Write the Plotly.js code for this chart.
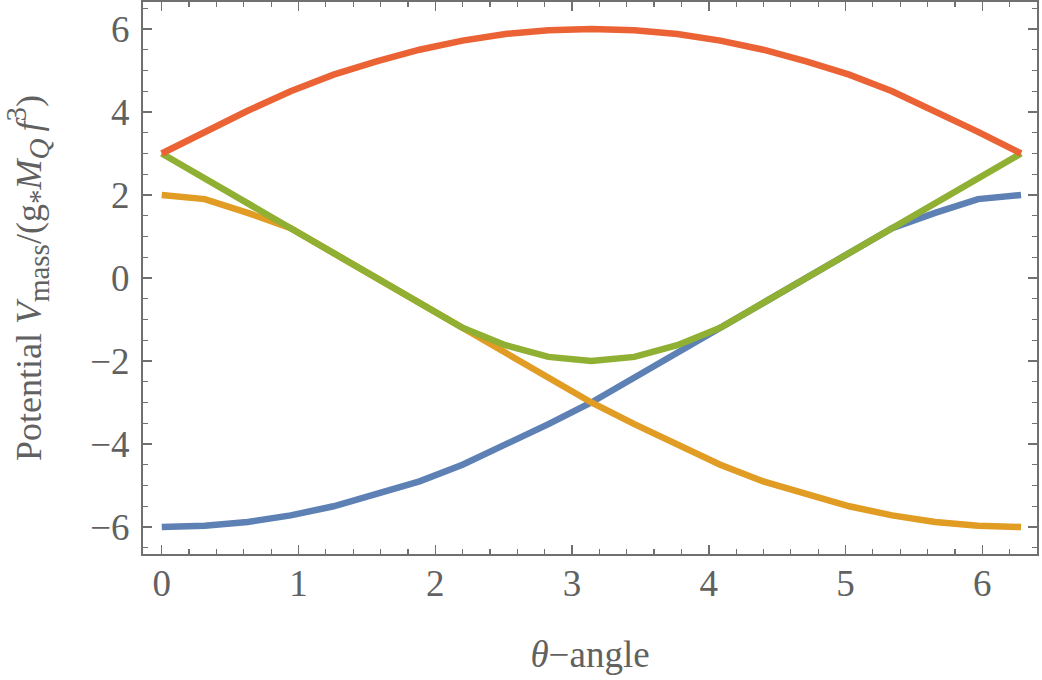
<!DOCTYPE html>
<html>
<head>
<meta charset="utf-8">
<script src="https://cdn.plot.ly/plotly-3.0.1.min.js"></script>
<style>html,body{margin:0;padding:0;background:#fff;}#chart{width:1042px;height:680px;}</style>
</head>
<body>
<div id="chart"></div>
<script>
// sample angles: k * pi/10, k = 0..20
const thetaSteps = [0,1,2,3,4,5,6,7,8,9,10,11,12,13,14,15,16,17,18,19,20];
const theta = thetaSteps.map(k => k * Math.PI / 10);

const seriesBlue   = [-6.0, -5.97, -5.88, -5.72, -5.5, -5.22, -4.9, -4.5, -4.03, -3.52, -3.0,
                      -2.4, -1.8, -1.2, -0.6, 0.0, 0.6, 1.2, 1.57, 1.9, 2.0];
const seriesOrange = [2.0, 1.9, 1.57, 1.2, 0.6, 0.0, -0.6, -1.2, -1.8, -2.4, -3.0,
                      -3.52, -4.03, -4.5, -4.9, -5.22, -5.5, -5.72, -5.88, -5.97, -6.0];
const seriesGreen  = [3.0, 2.4, 1.8, 1.2, 0.6, 0.0, -0.6, -1.2, -1.62, -1.9, -2.0,
                      -1.9, -1.62, -1.2, -0.6, 0.0, 0.6, 1.2, 1.8, 2.4, 3.0];
const seriesRed    = [3.0, 3.52, 4.03, 4.5, 4.9, 5.22, 5.5, 5.72, 5.88, 5.97, 6.0,
                      5.97, 5.88, 5.72, 5.5, 5.22, 4.9, 4.5, 4.03, 3.52, 3.0];

const xTickVals = [0,1,2,3,4,5,6];
const yTickVals = [-6,-4,-2,0,2,4,6];
const yTickText = ['\u22126','\u22124','\u22122','0','2','4','6'];

const colors = ['#5E81B5', '#E19C24', '#8FB032', '#EB6235'];
const allSeries = [seriesBlue, seriesOrange, seriesGreen, seriesRed];

const traces = allSeries.map((ys, i) => ({
  x: theta, y: ys, type: 'scatter', mode: 'lines',
  line: {color: colors[i], width: 6.5},
  hoverinfo: 'skip', showlegend: false
}));

const serif = 'Liberation Serif';
const tickFont = {family: serif, size: 37, color: '#616161'};
const frameColor = '#707070';
const s = t => '<span style="font-size:29px">' + t + '</span>';
const yTitle = 'Potential <i>V</i><sub>' + s('mass') + '</sub>/(g<sub>' + s('*') + '</sub><i>M</i><sub>' + s('<i>Q</i>') + '</sub>\u2009<i>f</i><sup>' + s('3') + '</sup>)';

const layout = {
  width: 1042, height: 680,
  margin: {l: 143, r: 5, t: 2, b: 126},
  paper_bgcolor: '#ffffff', plot_bgcolor: '#ffffff',
  showlegend: false,
  font: {family: serif, color: '#616161'},
  xaxis: {
    range: [-0.137, 6.40],
    showgrid: false, zeroline: false,
    showline: true, linecolor: frameColor, linewidth: 2, mirror: 'ticks',
    ticks: 'inside', ticklen: 9, tickwidth: 1.5, tickcolor: frameColor,
    tickvals: xTickVals, ticktext: xTickVals.map(String),
    tickfont: tickFont, ticklabelstandoff: -4,
    minor: {dtick: 0.2, tick0: 0, ticks: 'inside', ticklen: 5, tickwidth: 1.2, tickcolor: frameColor, showgrid: false},
    title: {text: '<i>θ</i>\u2212angle', font: {family: serif, size: 37, color: '#616161'}, standoff: 38}
  },
  yaxis: {
    range: [-6.65, 6.65],
    showgrid: false, zeroline: false,
    showline: true, linecolor: frameColor, linewidth: 2, mirror: 'ticks',
    ticks: 'inside', ticklen: 9, tickwidth: 1.5, tickcolor: frameColor,
    tickvals: yTickVals, ticktext: yTickText,
    tickfont: tickFont, ticklabelstandoff: 4,
    minor: {dtick: 0.5, tick0: 0, ticks: 'inside', ticklen: 5, tickwidth: 1.2, tickcolor: frameColor, showgrid: false},
    title: {text: yTitle, font: {family: serif, size: 36, color: '#616161'}, standoff: 44}
  }
};

Plotly.newPlot('chart', traces, layout, {displayModeBar: false, staticPlot: true});
</script>
</body>
</html>
